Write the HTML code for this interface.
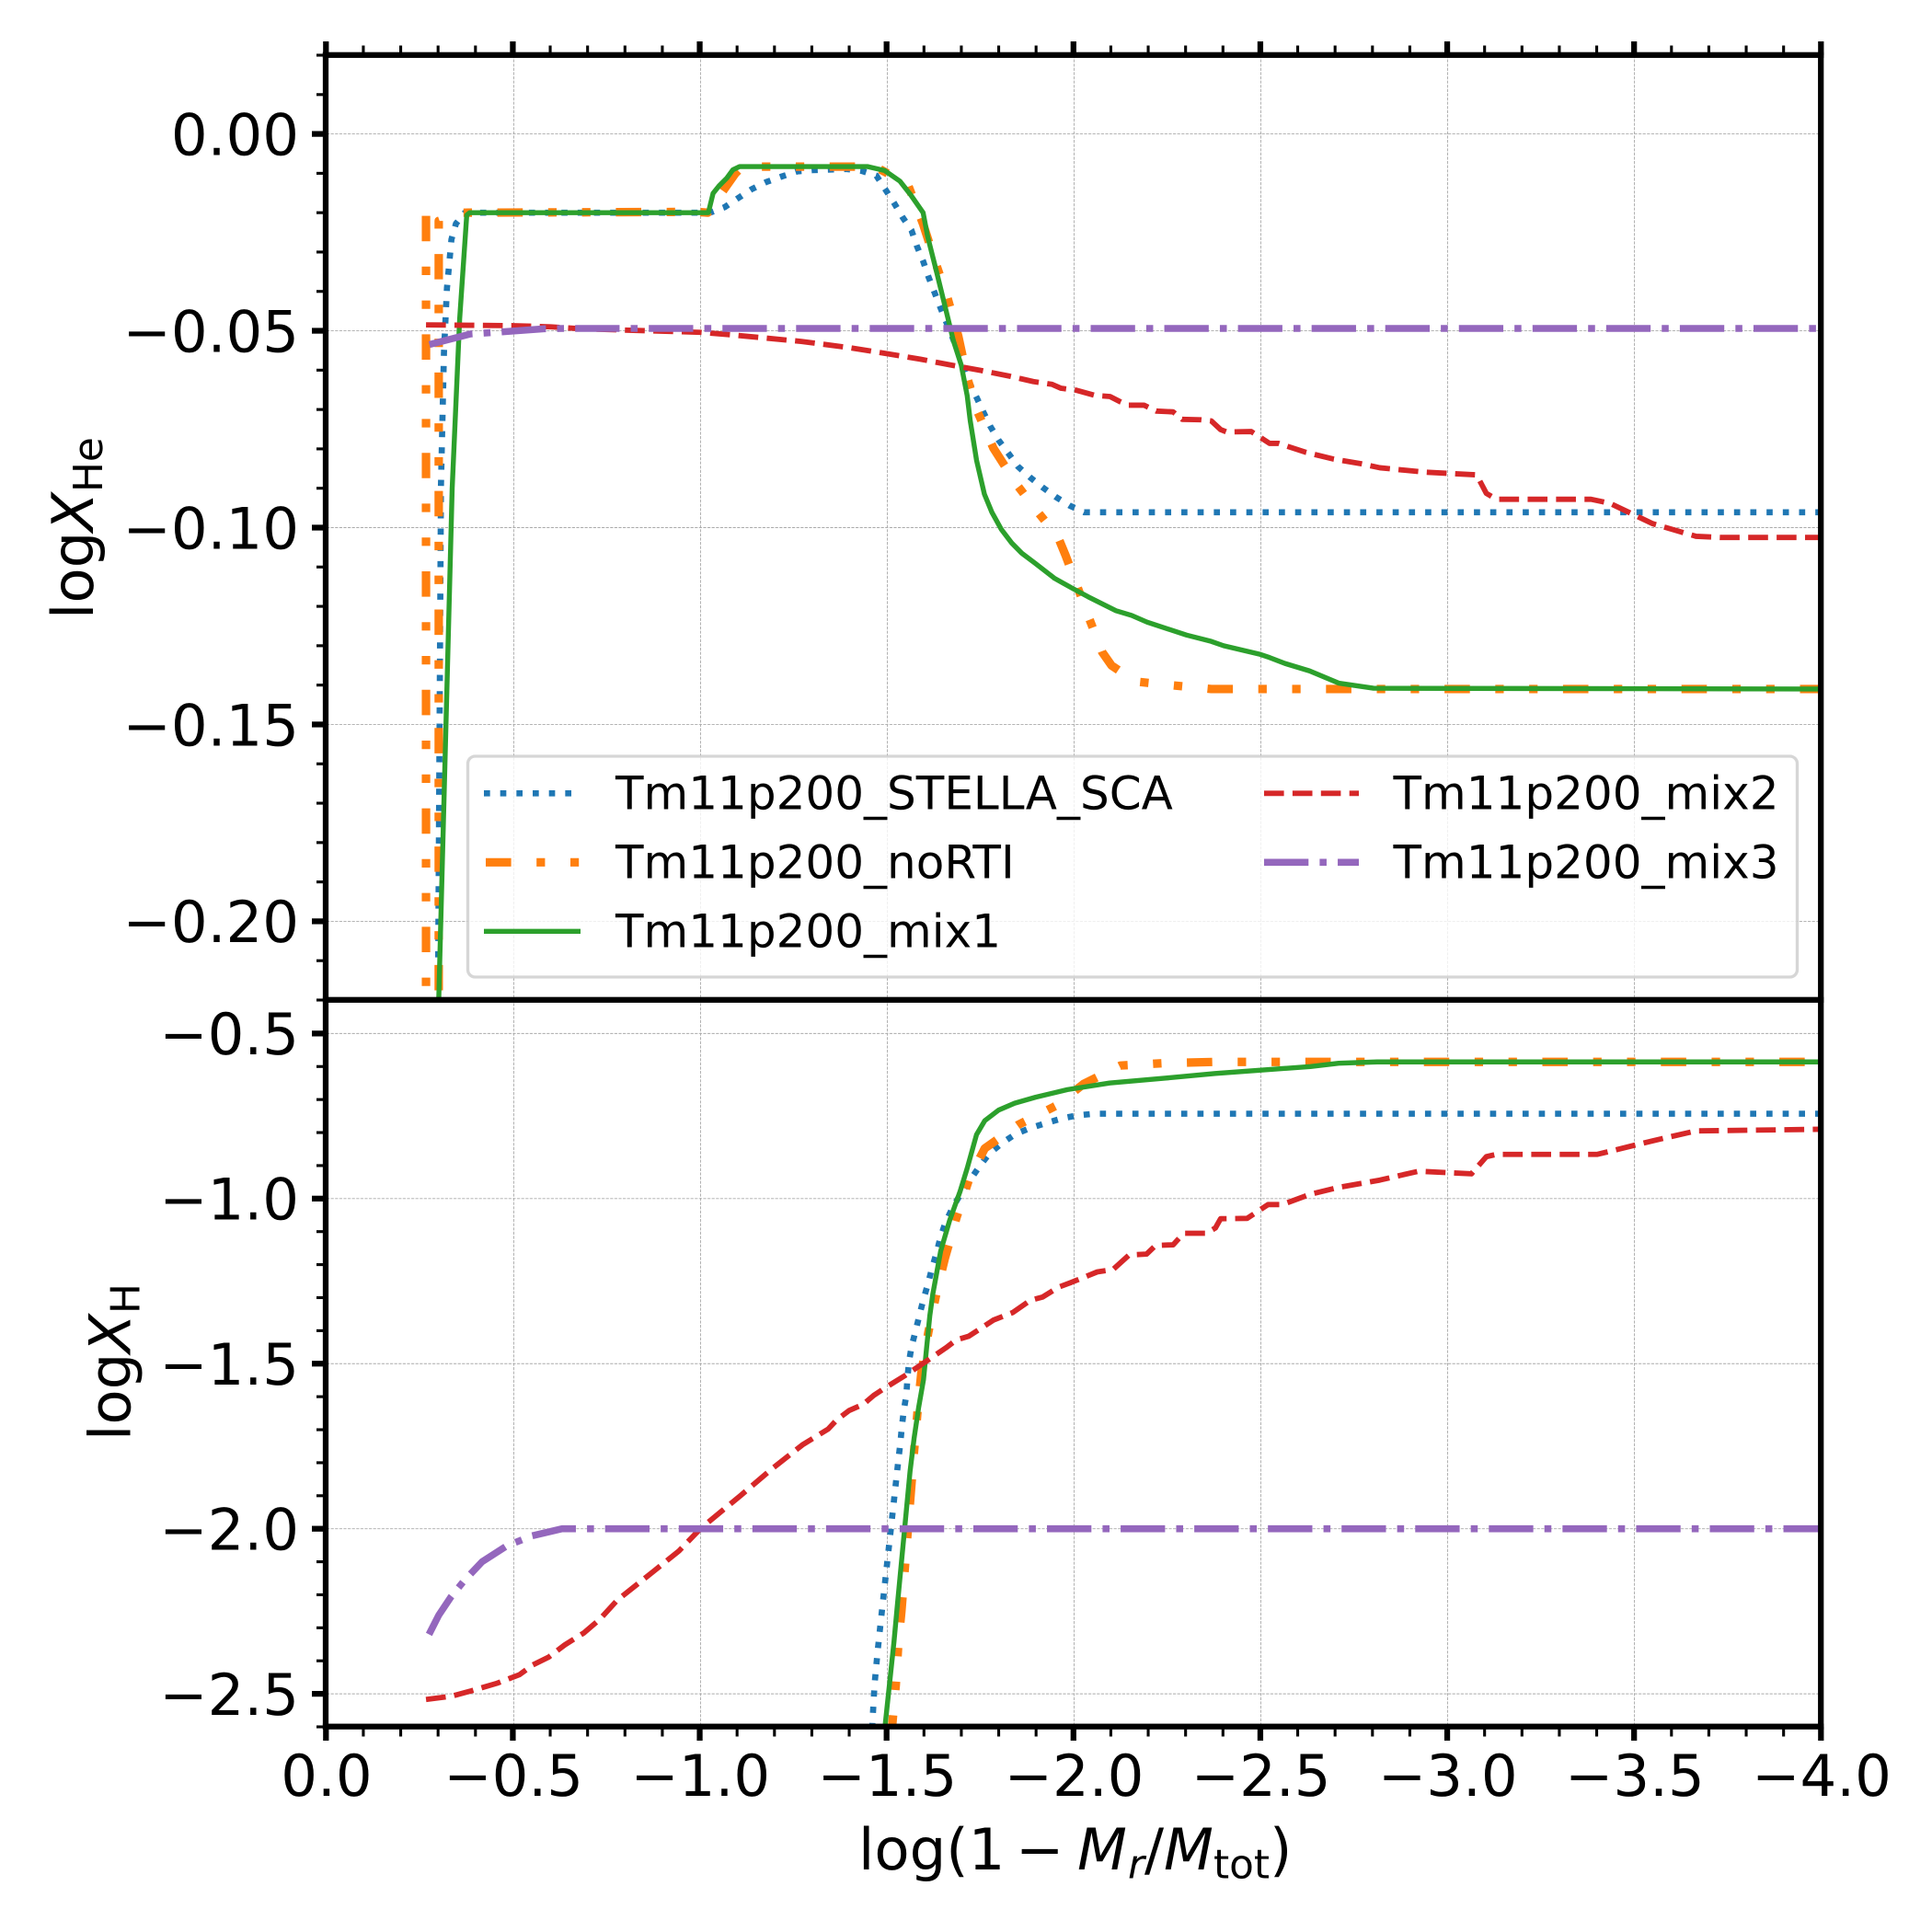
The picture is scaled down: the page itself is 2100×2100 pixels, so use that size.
<!DOCTYPE html>
<html lang="en">
<head>
<meta charset="utf-8">
<title>Abundance profiles</title>
<style>
html,body{margin:0;padding:0;background:#fff;width:2100px;height:2100px;overflow:hidden}
svg{display:block;font-family:"DejaVu Sans","Liberation Sans",sans-serif;text-rendering:geometricPrecision}
.tick-text{font-size:62.5px;fill:#000}
.axis-title{font-size:62.5px;fill:#000}
.sub{font-size:43.75px}
.legend-text{font-size:50px;fill:#000}
</style>
</head>
<body>
<svg id="chart" xmlns="http://www.w3.org/2000/svg" width="2100" height="2100" viewBox="0 0 2100 2100">
  <rect x="0" y="0" width="2100" height="2100" fill="#fff"/>
  <defs>
    <clipPath id="clip-top"><rect x="355" y="60" width="1625" height="1027"/></clipPath>
    <clipPath id="clip-bottom"><rect x="355" y="1087" width="1625" height="790"/></clipPath>
  </defs>
  <g id="grid-layer"></g>
  <g id="top-lines" clip-path="url(#clip-top)"></g>
  <g id="bottom-lines" clip-path="url(#clip-bottom)"></g>

  <g>
    <rect x="508.5" y="822" width="1445" height="240" rx="8" ry="8" fill="#fff" fill-opacity="0.8" stroke="#cccccc" stroke-opacity="0.8" stroke-width="3.33"/>
    <line x1="526" x2="631" y1="862.3" y2="862.3" stroke="#1f77b4" stroke-width="6.67" stroke-dasharray="6.67 11"/>
    <text class="legend-text" x="669" y="879.5">Tm11p200_STELLA_SCA</text>
    <line x1="528" x2="631" y1="937.3" y2="937.3" stroke="#ff7f0e" stroke-width="9.2" stroke-dasharray="27.6 27.6 9.2 27.6 9.2 27.6"/>
    <text class="legend-text" x="669" y="954.5">Tm11p200_noRTI</text>
    <line x1="526" x2="631" y1="1012.3" y2="1012.3" stroke="#2ca02c" stroke-width="5.4"/>
    <text class="legend-text" x="669" y="1029.5">Tm11p200_mix1</text>
    <line x1="1374" x2="1477" y1="862.3" y2="862.3" stroke="#d62728" stroke-width="5.83" stroke-dasharray="21.6 9.3"/>
    <text class="legend-text" x="1514.5" y="879.5">Tm11p200_mix2</text>
    <line x1="1374" x2="1477" y1="937.3" y2="937.3" stroke="#9467bd" stroke-width="7.55" stroke-dasharray="48.3 12.1 7.55 12.1"/>
    <text class="legend-text" x="1514.5" y="954.5">Tm11p200_mix3</text>
  </g>

  <g id="axes-layer"></g>

  <text class="axis-title" transform="translate(101,673) rotate(-90)"><tspan x="0" y="0">log</tspan><tspan x="95" y="0" font-style="italic">X</tspan><tspan class="sub" x="138" y="10">He</tspan></text>
  <text class="axis-title" transform="translate(141.6,1566) rotate(-90)"><tspan x="0" y="0">log</tspan><tspan x="95" y="0" font-style="italic">X</tspan><tspan class="sub" x="138" y="10">H</tspan></text>
  <text class="axis-title"><tspan x="933" y="2032">log(1</tspan><tspan x="1104" y="2032">−</tspan><tspan x="1171" y="2032" font-style="italic">M</tspan><tspan class="sub" x="1226" y="2041.4" font-style="italic">r</tspan><tspan x="1244" y="2032">/</tspan><tspan x="1265" y="2032" font-style="italic">M</tspan><tspan class="sub" x="1319" y="2041.4">tot</tspan><tspan x="1380" y="2032">)</tspan></text>
</svg>

<script>
// Axis ticks
var xMajorTicks = [0, -0.5, -1, -1.5, -2, -2.5, -3, -3.5, -4];
var xTickLabels = ["0.0", "−0.5", "−1.0", "−1.5", "−2.0", "−2.5", "−3.0", "−3.5", "−4.0"];
var heMajorTicks = [0, -0.05, -0.1, -0.15, -0.2];
var heTickLabels = ["0.00", "−0.05", "−0.10", "−0.15", "−0.20"];
var hMajorTicks = [-0.5, -1, -1.5, -2, -2.5];
var hTickLabels = ["−0.5", "−1.0", "−1.5", "−2.0", "−2.5"];

// log X_He — Tm11p200_STELLA_SCA
var heStellaX = [-0.29,-0.298,-0.306,-0.314,-0.322,-0.33,-0.334,-0.346,-0.37,-1.026,-1.065,-1.101,-1.138,-1.177,-1.218,-1.26,-1.3,-1.39,-1.432,-1.471,-1.495,-1.518,-1.54,-1.565,-1.579,-1.596,-1.61,-1.625,-1.641,-1.657,-1.674,-1.69,-1.719,-1.739,-1.757,-1.776,-1.798,-1.824,-1.85,-1.883,-1.916,-1.951,-1.988,-2.027,-4];
var heStellaY = [-0.3,-0.22,-0.0892,-0.0556,-0.0392,-0.031,-0.0268,-0.0228,-0.02,-0.02,-0.0186,-0.0163,-0.014,-0.0122,-0.0108,-0.0095,-0.0092,-0.0089,-0.0094,-0.0106,-0.0141,-0.0175,-0.021,-0.0245,-0.0284,-0.0323,-0.0362,-0.0399,-0.0438,-0.0476,-0.0515,-0.0556,-0.063,-0.0669,-0.0706,-0.0743,-0.0778,-0.0811,-0.0845,-0.0873,-0.0898,-0.0922,-0.0944,-0.0961,-0.0961];

// log X_He — Tm11p200_noRTI
var heNoRtiX = [-0.266,-0.266,-0.30,-0.30,-0.363,-0.99,-1.02,-1.062,-1.094,-1.112,-1.44,-1.479,-1.555,-1.596,-1.63,-1.66,-1.69,-1.714,-1.74,-1.784,-1.846,-1.90,-1.957,-1.977,-2.006,-2.038,-2.075,-2.10,-2.164,-2.256,-2.367,-4];
var heNoRtiY = [-0.0208,-0.3132,-0.3132,-0.0221,-0.02,-0.0198,-0.02,-0.0143,-0.01,-0.0083,-0.0083,-0.0089,-0.0128,-0.0229,-0.0329,-0.0412,-0.0513,-0.0619,-0.0702,-0.0798,-0.089,-0.0957,-0.1024,-0.107,-0.1143,-0.1225,-0.1316,-0.135,-0.1391,-0.14,-0.141,-0.141];

// log X_He — Tm11p200_mix1
var heMix1X = [-0.29,-0.30,-0.336,-0.356,-0.375,-0.383,-1.0215,-1.034,-1.05,-1.071,-1.087,-1.105,-1.448,-1.493,-1.534,-1.563,-1.596,-1.608,-1.633,-1.657,-1.677,-1.698,-1.714,-1.722,-1.739,-1.76,-1.78,-1.805,-1.833,-1.86,-1.895,-1.948,-1.997,-2.038,-2.112,-2.154,-2.195,-2.301,-2.367,-2.4,-2.498,-2.523,-2.564,-2.63,-2.708,-2.801,-4];
var heMix1Y = [-0.3,-0.22,-0.09,-0.047,-0.0206,-0.02,-0.02,-0.0151,-0.0132,-0.0112,-0.0091,-0.0083,-0.0083,-0.0093,-0.012,-0.0155,-0.02,-0.026,-0.0354,-0.0447,-0.0525,-0.0587,-0.0665,-0.0728,-0.0829,-0.0915,-0.0961,-0.1004,-0.1039,-0.1065,-0.109,-0.1129,-0.1155,-0.1176,-0.1211,-0.1223,-0.124,-0.1273,-0.1289,-0.13,-0.1322,-0.133,-0.1345,-0.1364,-0.1395,-0.1408,-0.141];

// log X_He — Tm11p200_mix2
var heMix2X = [-0.266,-0.5,-0.6,-0.684,-1,-1.08,-1.27,-1.4,-1.504,-1.588,-1.67,-1.752,-1.826,-1.891,-1.941,-1.965,-2.006,-2.055,-2.096,-2.125,-2.146,-2.187,-2.22,-2.265,-2.289,-2.338,-2.367,-2.392,-2.408,-2.474,-2.523,-2.547,-2.621,-2.695,-2.769,-2.818,-2.938,-3.077,-3.103,-3.13,-3.383,-3.433,-3.548,-3.664,-3.73,-4];
var heMix2Y = [-0.0485,-0.0487,-0.049,-0.0495,-0.0504,-0.051,-0.0527,-0.0543,-0.0559,-0.0572,-0.0587,-0.0601,-0.0615,-0.0629,-0.0636,-0.0646,-0.0651,-0.0664,-0.0667,-0.0681,-0.0689,-0.0689,-0.0704,-0.0706,-0.0725,-0.0726,-0.0729,-0.0751,-0.0757,-0.0756,-0.0786,-0.0786,-0.0809,-0.0826,-0.0838,-0.0848,-0.0859,-0.0866,-0.0913,-0.0928,-0.0928,-0.0938,-0.099,-0.1022,-0.1025,-0.1025];

// log X_He — Tm11p200_mix3
var heMix3X = [-0.275,-0.385,-0.467,-0.582,-0.64,-4];
var heMix3Y = [-0.0535,-0.0508,-0.0503,-0.0495,-0.0494,-0.0494];

// log X_H — Tm11p200_STELLA_SCA
var hStellaX = [-1.44,-1.461,-1.466,-1.474,-1.483,-1.53,-1.535,-1.539,-1.544,-1.551,-1.554,-1.558,-1.565,-1.576,-1.586,-1.597,-1.609,-1.62,-1.632,-1.643,-1.657,-1.676,-1.698,-1.747,-1.773,-1.807,-1.844,-1.883,-1.926,-1.968,-2.009,-2.054,-4];
var hStellaY = [-3,-2.575,-2.473,-2.375,-2.278,-1.79,-1.742,-1.693,-1.644,-1.596,-1.546,-1.496,-1.449,-1.4,-1.354,-1.305,-1.258,-1.21,-1.164,-1.115,-1.069,-1.025,-0.983,-0.902,-0.864,-0.832,-0.804,-0.786,-0.771,-0.757,-0.748,-0.743,-0.743];

// log X_H — Tm11p200_noRTI
var hNoRtiX = [-1.49,-1.513,-1.523,-1.53,-1.538,-1.572,-1.582,-1.591,-1.61,-1.633,-1.654,-1.685,-1.72,-1.761,-1.85,-1.953,-2.025,-2.124,-2.237,-2.378,-4];
var hNoRtiY = [-3,-2.6,-2.473,-2.345,-2.25,-1.763,-1.633,-1.53,-1.405,-1.28,-1.182,-1.059,-0.938,-0.848,-0.777,-0.718,-0.653,-0.597,-0.59,-0.586,-0.586];

// log X_H — Tm11p200_mix1
var hMix1X = [-1.47,-1.495,-1.518,-1.526,-1.561,-1.572,-1.584,-1.597,-1.605,-1.614,-1.622,-1.643,-1.667,-1.695,-1.714,-1.739,-1.761,-1.798,-1.841,-1.897,-1.982,-2.095,-2.246,-2.378,-2.5,-2.632,-2.708,-2.811,-4];
var hMix1Y = [-3,-2.589,-2.343,-2.245,-1.827,-1.725,-1.633,-1.549,-1.456,-1.354,-1.289,-1.159,-1.066,-0.978,-0.908,-0.806,-0.764,-0.732,-0.711,-0.693,-0.67,-0.65,-0.635,-0.621,-0.611,-0.6,-0.59,-0.586,-0.586];

// log X_H — Tm11p200_mix2
var hMix2X = [-0.266,-0.335,-0.387,-0.456,-0.516,-0.551,-0.594,-0.637,-0.689,-0.732,-0.778,-0.877,-0.943,-1,-1.108,-1.19,-1.273,-1.342,-1.365,-1.398,-1.436,-1.464,-1.492,-1.549,-1.591,-1.657,-1.685,-1.718,-1.784,-1.836,-1.883,-1.916,-1.959,-1.992,-2.062,-2.104,-2.147,-2.194,-2.218,-2.265,-2.293,-2.354,-2.378,-2.392,-2.463,-2.519,-2.557,-2.632,-2.708,-2.818,-2.922,-3.063,-3.103,-3.13,-3.4,-3.548,-3.664,-4];
var hMix2Y = [-2.517,-2.507,-2.491,-2.468,-2.442,-2.413,-2.389,-2.352,-2.315,-2.273,-2.216,-2.127,-2.067,-2,-1.899,-1.82,-1.746,-1.698,-1.67,-1.642,-1.623,-1.596,-1.575,-1.535,-1.503,-1.452,-1.428,-1.417,-1.368,-1.345,-1.308,-1.298,-1.268,-1.254,-1.222,-1.215,-1.171,-1.168,-1.142,-1.14,-1.105,-1.105,-1.089,-1.061,-1.06,-1.018,-1.018,-0.987,-0.966,-0.944,-0.917,-0.925,-0.873,-0.866,-0.866,-0.825,-0.795,-0.79];

// log X_H — Tm11p200_mix3
var hMix3X = [-0.274,-0.30,-0.333,-0.366,-0.416,-0.482,-0.548,-0.63,-4];
var hMix3Y = [-2.32,-2.262,-2.206,-2.16,-2.1,-2.052,-2.022,-2,-2];

var NS = 'http://www.w3.org/2000/svg';
var LEFT = 355, RIGHT = 1980, TOP = 60, MID = 1087, BOTTOM = 1877;
var SPINE = 6.25, MAJOR_W = 6.25, MINOR_W = 3.1;

function xScale(v) { return LEFT + (0 - v) / 4 * (RIGHT - LEFT); }
function yHe(v) { return TOP + (0.02 - v) / 0.24 * (MID - TOP); }
function yH(v) { return MID + 0.5 + (-0.4 - v) / 2.2 * (BOTTOM - MID - 0.5); }

function make(tag, attrs, parent) {
  var el = document.createElementNS(NS, tag);
  for (var k in attrs) { el.setAttribute(k, attrs[k]); }
  parent.appendChild(el);
  return el;
}

function pathFrom(xs, ys, yFn) {
  var d = '';
  for (var i = 0; i < xs.length; i++) {
    d += (i ? 'L' : 'M') + xScale(xs[i]).toFixed(2) + ' ' + yFn(ys[i]).toFixed(2);
  }
  return d;
}

var gridLayer = document.getElementById('grid-layer');
var axesLayer = document.getElementById('axes-layer');
var topLines = document.getElementById('top-lines');
var bottomLines = document.getElementById('bottom-lines');
var gridStyle = { stroke: '#ababab', 'stroke-width': 0.9, 'stroke-dasharray': '3.2 1.4', fill: 'none' };

function gridLine(x1, y1, x2, y2) {
  var attrs = { x1: x1, y1: y1, x2: x2, y2: y2 };
  for (var k in gridStyle) { attrs[k] = gridStyle[k]; }
  return make('line', attrs, gridLayer);
}

function solidRect(x, y, w, h) {
  return make('rect', { x: x, y: y, width: w, height: h, fill: '#000' }, axesLayer);
}

// Vertical grid lines, x major ticks and labels
xMajorTicks.forEach(function (v, i) {
  var x = Math.round(xScale(v) - 0.5) + 0.5;
  var tx = xScale(v) - 0.7;
  if (i > 0 && i < xMajorTicks.length - 1) {
    var g = gridLine(x, TOP, x, BOTTOM);
    
    
  }
  var topTick = solidRect(tx - MAJOR_W / 2, TOP - 15, MAJOR_W, 15);
  
  
  var botTick = solidRect(tx - MAJOR_W / 2, BOTTOM, MAJOR_W, 15);
  
  
  var label = make('text', { x: xScale(v), y: 1952, 'text-anchor': 'middle', 'class': 'tick-text' }, axesLayer);
  label.textContent = xTickLabels[i];
  
  
});

// x minor ticks every 0.1
for (var m = 1; m < 40; m++) {
  if (m % 5 === 0) continue;
  var mx = xScale(-m / 10) - 0.7;
  var mt = solidRect(mx - MINOR_W / 2, TOP - 10.5, MINOR_W, 10.5);
  
  
  var mb = solidRect(mx - MINOR_W / 2, BOTTOM, MINOR_W, 10.5);
  
  
}

// Helium panel y axis
heMajorTicks.forEach(function (v, i) {
  var y = yHe(v);
  var g = gridLine(LEFT, y, RIGHT, y);
  
  
  var t = solidRect(LEFT - 16, y - MAJOR_W / 2, 16, MAJOR_W);
  
  
  var label = make('text', { x: 325, y: y + 22.8, 'text-anchor': 'end', 'class': 'tick-text' }, axesLayer);
  label.textContent = heTickLabels[i];
  
  
});
for (var a = -22; a <= 2; a++) {
  if (a % 5 === 0) continue;
  var ht = solidRect(LEFT - 11, yHe(a / 100) - MINOR_W / 2, 11, MINOR_W);
  
  
}

// Hydrogen panel y axis
hMajorTicks.forEach(function (v, i) {
  var y = yH(v);
  var g = gridLine(LEFT, y, RIGHT, y);
  
  
  var t = solidRect(LEFT - 16, y - MAJOR_W / 2, 16, MAJOR_W);
  
  
  var label = make('text', { x: 325, y: y + 22.8, 'text-anchor': 'end', 'class': 'tick-text' }, axesLayer);
  label.textContent = hTickLabels[i];
  
  
});
for (var b = -26; b <= -5; b++) {
  if (b % 5 === 0) continue;
  var st = solidRect(LEFT - 11, yH(b / 10) - MINOR_W / 2, 11, MINOR_W);
  
  
}

// Spines
var spineLeftX = LEFT - 1, spineRightX = RIGHT - 0.8;
var spineSpan = spineRightX - spineLeftX + SPINE;
var sTop = solidRect(spineLeftX - SPINE / 2, TOP - 0.2 - SPINE / 2, spineSpan, SPINE);


var sMid = solidRect(spineLeftX - SPINE / 2, MID - 0.2 - SPINE / 2, spineSpan, SPINE);


var sBot = solidRect(spineLeftX - SPINE / 2, BOTTOM - 0.3 - SPINE / 2, spineSpan, SPINE);


var sLeft = solidRect(spineLeftX - SPINE / 2, TOP - 0.2 - SPINE / 2, SPINE, BOTTOM - TOP + SPINE);


var sRight = solidRect(spineRightX - SPINE / 2, TOP - 0.2 - SPINE / 2, SPINE, BOTTOM - TOP + SPINE);



function drawLine(parent, xs, ys, yFn, color, width, dash) {
  var attrs = { d: pathFrom(xs, ys, yFn), fill: 'none', stroke: color, 'stroke-width': width, 'stroke-linejoin': 'round', 'stroke-linecap': 'butt' };
  if (dash) { attrs['stroke-dasharray'] = dash; }
  return make('path', attrs, parent);
}

var DOT = '6.67 11', DDD = '27.6 27.6 9.2 27.6 9.2 27.6', DASH = '21.6 9.3', DD = '48.3 12.1 7.55 12.1';

var l1 = drawLine(topLines, heStellaX, heStellaY, yHe, '#1f77b4', 6.67, DOT);


var l2 = drawLine(topLines, heNoRtiX, heNoRtiY, yHe, '#ff7f0e', 9.2, DDD);


var l3 = drawLine(topLines, heMix1X, heMix1Y, yHe, '#2ca02c', 5.4, null);


var l4 = drawLine(topLines, heMix2X, heMix2Y, yHe, '#d62728', 5.83, DASH);


var l5 = drawLine(topLines, heMix3X, heMix3Y, yHe, '#9467bd', 7.55, DD);



var l6 = drawLine(bottomLines, hStellaX, hStellaY, yH, '#1f77b4', 6.67, DOT);


var l7 = drawLine(bottomLines, hNoRtiX, hNoRtiY, yH, '#ff7f0e', 9.2, DDD);


var l8 = drawLine(bottomLines, hMix1X, hMix1Y, yH, '#2ca02c', 5.4, null);


var l9 = drawLine(bottomLines, hMix2X, hMix2Y, yH, '#d62728', 5.83, DASH);


var l10 = drawLine(bottomLines, hMix3X, hMix3Y, yH, '#9467bd', 7.55, DD);


</script>
</body>
</html>
